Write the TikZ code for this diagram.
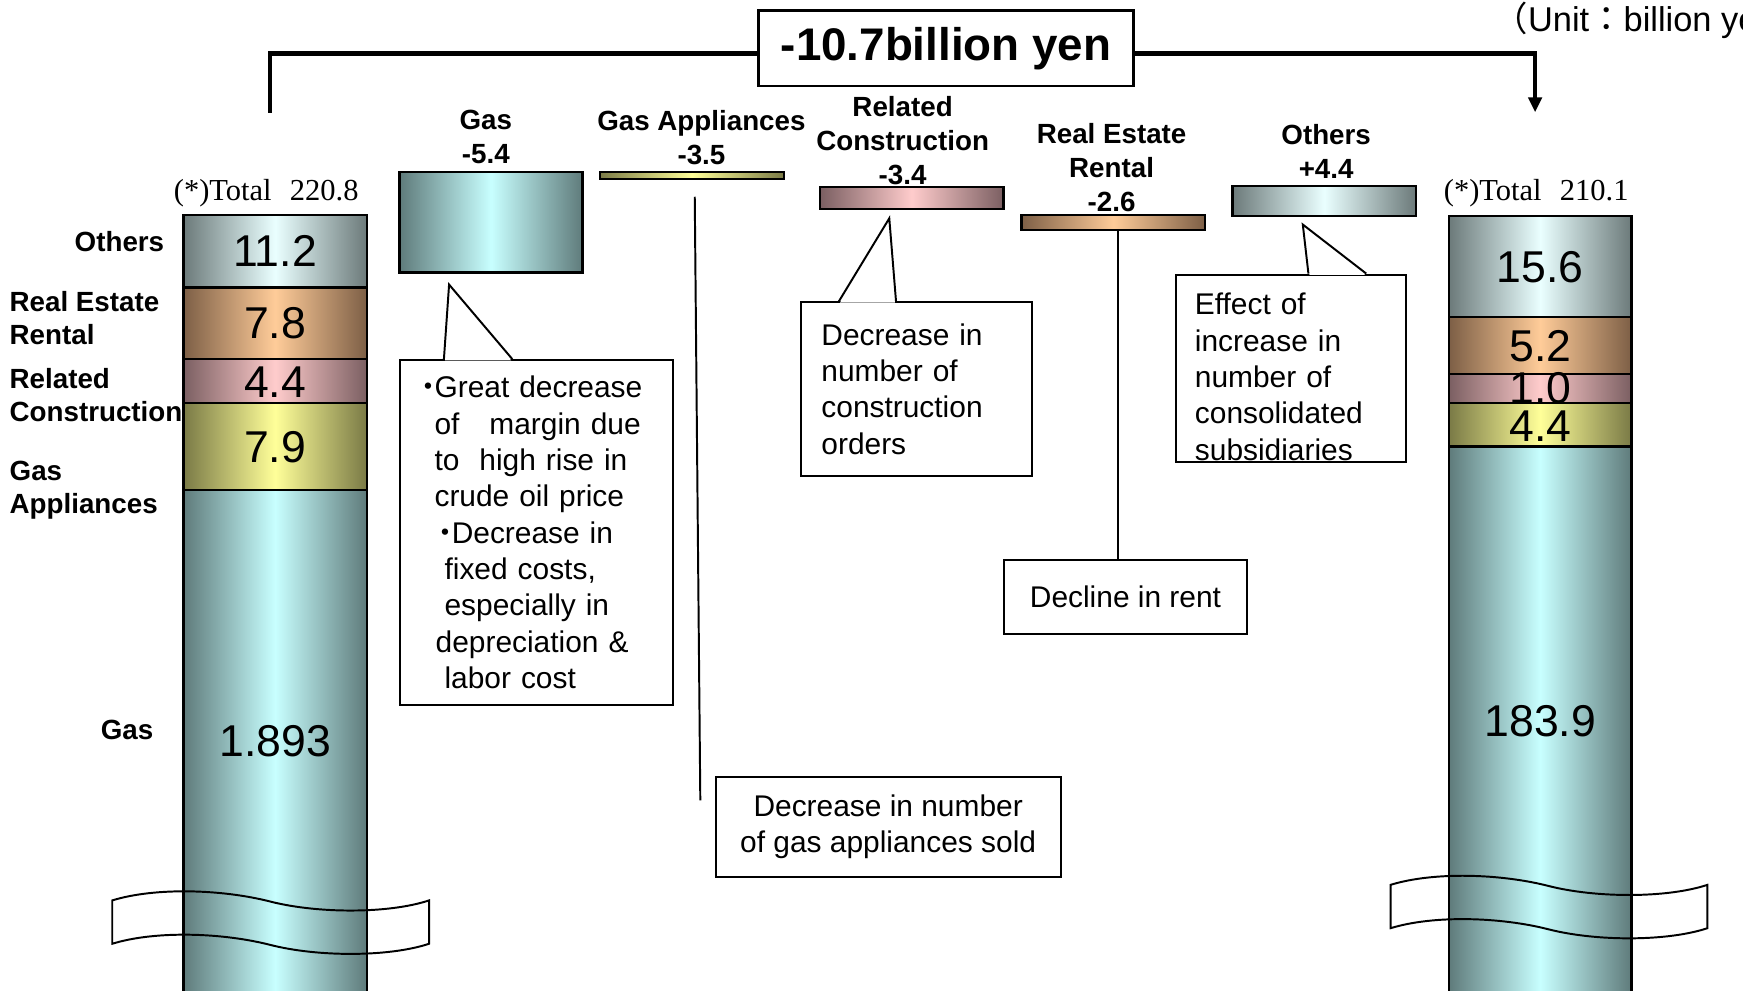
\documentclass[tikz,border=0pt]{standalone}
\usepackage{fontspec}
\setmainfont{Liberation Sans}
\newfontfamily\timesfont{Liberation Serif}
\newfontfamily\cjk{Noto Sans CJK JP}
\usetikzlibrary{arrows.meta,calc}
\definecolor{gasdk}{RGB}{95,123,123}
\definecolor{gaslt}{RGB}{200,255,255}
\definecolor{othdk}{RGB}{108,122,122}
\definecolor{othlt}{RGB}{234,255,255}
\definecolor{redk}{RGB}{125,95,70}
\definecolor{relt}{RGB}{255,204,153}
\definecolor{rcdk}{RGB}{123,95,98}
\definecolor{rclt}{RGB}{255,204,204}
\definecolor{gadk}{RGB}{122,122,70}
\definecolor{galt}{RGB}{255,255,153}
\newcommand{\dotmark}{\makebox[0.11cm][c]{\cjk ・}}
\tikzset{
  gasfill/.style={left color=gasdk,right color=gasdk,middle color=gaslt},
  othfill/.style={left color=othdk,right color=othdk,middle color=othlt},
  refill/.style={left color=redk,right color=redk,middle color=relt},
  rcfill/.style={left color=rcdk,right color=rcdk,middle color=rclt},
  gafill/.style={left color=gadk,right color=gadk,middle color=galt},
  seg/.style={draw=black,line width=0.6pt},
  bar/.style={draw=black,line width=0.6pt,inner sep=0pt},
  num/.style={font=\fontsize{11.4}{13.7}\selectfont,inner sep=0pt},
  cat/.style={font=\fontsize{7.1}{8.7}\selectfont\bfseries,align=center,inner sep=0pt},
  side/.style={font=\fontsize{7.1}{8.5}\selectfont\bfseries,align=left,inner sep=0pt},
  tot/.style={font=\timesfont\fontsize{7.8}{9.4}\selectfont,inner sep=0pt},
  note/.style={draw=black,line width=0.5pt,fill=white,font=\fontsize{7.65}{9.3}\selectfont},
  lead/.style={draw=black,line width=0.5pt},
  brk/.style={line width=1.2pt},
  brkband/.style={draw=black,line width=0.5pt},
  titlebox/.style={draw=black,line width=0.6pt,font=\fontsize{11.7}{14}\selectfont\bfseries,
    minimum width=3.37cm,minimum height=0.68cm,inner sep=0pt},
  unitlab/.style={font=\fontsize{8.8}{10.5}\selectfont,inner sep=0pt},
}

\begin{document}
\begin{tikzpicture}[x=0.01cm,y=-0.01cm]
  \useasboundingbox (0,0) rectangle (1568,891);
  \clip (0,0) rectangle (1568,891);
  \fill[white] (0,0) rectangle (1568,891);
  % columns
  \shadedraw[othfill,seg] (165,193.4) rectangle (330,258.5);
  \shadedraw[refill,seg] (165,258.5) rectangle (330,323);
  \shadedraw[rcfill,seg] (165,323) rectangle (330,362.8);
  \shadedraw[gafill,seg] (165,362.8) rectangle (330,440.8);
  \shadedraw[gasfill,seg] (165,440.8) rectangle (330,900);
  \shadedraw[othfill,seg] (1303.5,194.3) rectangle (1467.7,284.9);
  \shadedraw[refill,seg] (1303.5,284.9) rectangle (1467.7,336.5);
  \shadedraw[rcfill,seg] (1303.5,336.5) rectangle (1467.7,362.3);
  \shadedraw[gafill,seg] (1303.5,362.3) rectangle (1467.7,401.8);
  \shadedraw[gasfill,seg] (1303.5,401.8) rectangle (1467.7,900);
  \node[num] (lnoth) at (247.5,225.8) {11.2};
  \node[num] (lnre) at (247.5,291) {7.8};
  \node[num] (lnrc) at (247.5,343.5) {4.4};
  \node[num] (lnga) at (247.5,402.5) {7.9};
  \node[num] (lngas) at (247.5,667) {1.893};
  \node[num] (rnoth) at (1385.6,240.5) {15.6};
  \node[num] (rnre) at (1385.6,311.5) {5.2};
  \node[num] (rnrc) at (1385.6,349.5) {1.0};
  \node[num] (rnga) at (1385.6,383) {4.4};
  \node[num] (rngas) at (1385.6,649) {183.9};
  % break marks
  \draw[brkband] (101,810) .. controls (140,798) and (200,800) .. (243,811)
    .. controls (286,822) and (350,822) .. (386,810) -- (386,849)
    .. controls (350,861) and (286,861) .. (243,850)
    .. controls (200,839) and (140,837) .. (101,849) -- cycle;
  \draw[brkband] (1251,796) .. controls (1290,784) and (1350,786) .. (1393,797)
    .. controls (1436,808) and (1500,808) .. (1536,796) -- (1536,835)
    .. controls (1500,847) and (1436,847) .. (1393,836)
    .. controls (1350,825) and (1290,823) .. (1251,835) -- cycle;
  % totals and side labels
  \node[tot,anchor=base] (ltot) at (239.5,180) {(*)Total\hspace{0.6em}220.8};
  \node[tot,anchor=base] (rtot) at (1382,180) {(*)Total\hspace{0.6em}210.1};
  \node[side,anchor=base east] (sideoth) at (148.4,226.4) {Others};
  \node[side,anchor=north west] (sidere) at (8,261.5) {Real Estate\\Rental};
  \node[side,anchor=north west] (siderc) at (8,330.5) {Related\\Construction};
  \node[side,anchor=north west] (sidega) at (8,414.3) {Gas\\Appliances};
  \node[side,anchor=base west] (sidegas) at (90,665.7) {Gas};
  % difference bars
  \node[bar,gasfill,minimum width=1.646cm,minimum height=0.905cm] (gasbar) at (441.7,199.8) {};
  \node[bar,gafill,minimum width=1.656cm,minimum height=0.068cm] (gabar) at (622.5,157.9) {};
  \node[bar,rcfill,minimum width=1.646cm,minimum height=0.198cm] (rcbar) at (820.3,178.4) {};
  \node[bar,refill,minimum width=1.65cm,minimum height=0.136cm] (rebar) at (1001.5,200.2) {};
  \node[bar,othfill,minimum width=1.65cm,minimum height=0.267cm] (othbar) at (1191.2,180.7) {};
  \node[cat,anchor=north] (cgas) at (437,98.5) {Gas\\-5.4};
  \node[cat,anchor=north] (cga) at (631,98.5) {Gas Appliances\\-3.5};
  \node[cat,anchor=north] (crc) at (812,86) {Related\\Construction\\-3.4};
  \node[cat,anchor=north] (cre) at (1000,110) {Real Estate\\Rental\\-2.6};
  \node[cat,anchor=north] (coth) at (1193,111.5) {Others\\+4.4};
  % title and bracket
  \node[titlebox] (title) at (851,43.5) {-10.7billion yen};
  \node[unitlab,anchor=base west] (unit) at (1343,28.5) {{\cjk （}Unit{\cjk ：}billion yen{\cjk ）}};
  \coordinate (lcol) at (243,102);
  \coordinate (rcol) at (1381,101);
  \draw[brk] ([yshift=-0.045cm]title.west) -| (lcol);
  \draw[brk,-{Triangle[width=0.12cm,length=0.135cm]}] ([yshift=-0.045cm]title.east) -| (rcol);
  % notes
  \node[note,align=left,text width=2.05cm,inner xsep=0.2cm,inner ysep=0pt,minimum height=3.10cm] (gasnote) at (482.5,479)
    {\dotmark Great decrease\\
     \hspace*{0.11cm}of\ \ \ margin due\\
     \hspace*{0.11cm}to\ \ high rise in\\
     \hspace*{0.11cm}crude oil price\\
     \hspace*{0.155cm}\dotmark Decrease in\\
     \hspace*{0.2cm}fixed costs,\\
     \hspace*{0.2cm}especially in\\
     \hspace*{0.12cm}depreciation \&\\
     \hspace*{0.2cm}labor cost};
  \node[note,align=left,text width=1.71cm,inner xsep=0.18cm,inner ysep=0pt,minimum height=1.56cm] (rcnote) at (824.5,350)
    {Decrease in\\number of\\construction\\orders};
  \node[note,align=left,text width=1.73cm,inner xsep=0.17cm,inner ysep=0pt,minimum height=1.683cm] (othnote) at (1161.5,331.2)
    {\rule{0pt}{0.35cm}Effect of\\increase in\\number of\\consolidated\\subsidiaries};
  \node[note,align=center,inner sep=0pt,minimum width=3.10cm,minimum height=0.90cm] (ganote) at (799,744)
    {Decrease in number\\of gas appliances sold};
  \node[note,align=center,inner sep=0pt,minimum width=2.19cm,minimum height=0.66cm] (rentnote) at (1012.5,537)
    {Decline in rent};
  % pointers
  \coordinate (gastip) at (404,256);
  \coordinate (gasp1) at ($(gasnote.north west)+(40.3,0)$);
  \coordinate (gasp2) at ($(gasnote.north west)+(101.8,0)$);
  \fill[white] ($(gasp1)+(1,1.2)$) -- (gastip) -- ($(gasp2)+(-1,1.2)$) -- cycle;
  \draw[lead] (gasp1) -- (gastip) -- (gasp2);
  \coordinate (rctip) at (800,196.4);
  \coordinate (rcp1) at ($(rcnote.north west)+(34.6,0)$);
  \coordinate (rcp2) at ($(rcnote.north west)+(86,0)$);
  \fill[white] ($(rcp1)+(1,1.2)$) -- (rctip) -- ($(rcp2)+(-1,1.2)$) -- cycle;
  \draw[lead] (rcp1) -- (rctip) -- (rcp2);
  \coordinate (othtip) at (1172,202);
  \coordinate (othp1) at ($(othnote.north west)+(120,0)$);
  \coordinate (othp2) at ($(othnote.north west)+(172,0)$);
  \fill[white] ($(othp1)+(1,1.2)$) -- (othtip) -- ($(othp2)+(-1,1.2)$) -- cycle;
  \draw[lead] (othp1) -- (othtip) -- (othp2);
  % leader lines
  \coordinate (gatop) at (625,177);
  \coordinate (gabot) at (630,720);
  \draw[lead] (gatop) -- (gabot);
  \coordinate (rtop) at ($(rebar.south)+(4.5,0)$);
  \draw[lead] (rtop) -- (rtop |- rentnote.north);
\end{tikzpicture}
\end{document}
